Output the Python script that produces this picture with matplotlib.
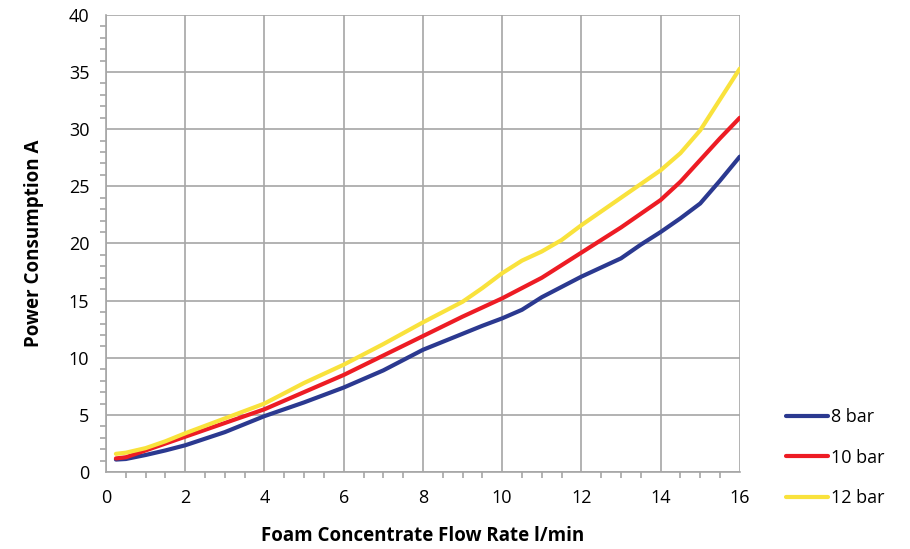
import matplotlib.pyplot as plt
from matplotlib.ticker import MultipleLocator

flow = [0.25, 0.5, 1, 1.5, 2, 3, 4, 5, 6, 7, 8, 9, 9.5, 10, 10.5, 11, 11.5, 12, 12.5, 13, 13.5, 14, 14.5, 15, 15.5, 16]
bar8 = [1.1, 1.15, 1.5, 1.9, 2.35, 3.5, 4.9, 6.1, 7.4, 8.9, 10.7, 12.1, 12.8, 13.45, 14.2, 15.3, 16.2, 17.1, 17.9, 18.7, 19.9, 21.0, 22.2, 23.5, 25.5, 27.6]
bar10 = [1.2, 1.3, 1.9, 2.5, 3.1, 4.3, 5.5, 7.0, 8.5, 10.2, 11.9, 13.6, 14.4, 15.2, 16.1, 17.0, 18.1, 19.2, 20.3, 21.4, 22.6, 23.8, 25.4, 27.3, 29.2, 31.0]
bar12 = [1.6, 1.7, 2.1, 2.7, 3.4, 4.7, 6.0, 7.8, 9.4, 11.2, 13.1, 14.9, 16.1, 17.4, 18.5, 19.3, 20.3, 21.6, 22.8, 24.0, 25.2, 26.4, 27.9, 29.9, 32.6, 35.3]

series = [("8 bar", bar8, "#2b3990"), ("10 bar", bar10, "#ed1c24"), ("12 bar", bar12, "#f9e23c")]

plt.rcParams['font.family'] = ['Open Sans', 'DejaVu Sans']

fig = plt.figure(figsize=(9.1, 5.49), dpi=100)
ax = fig.add_axes([0.1165, 0.140, 0.6965, 0.833])

for name, vals, col in series:
    ax.plot(flow, vals, color=col, lw=3.0, label=name,
            solid_capstyle='round', solid_joinstyle='round')

ax.set_xlim(0, 16)
ax.set_ylim(0, 40)
ax.xaxis.set_major_locator(MultipleLocator(2))
ax.xaxis.set_minor_locator(MultipleLocator(0.5))
ax.yaxis.set_major_locator(MultipleLocator(5))
ax.yaxis.set_minor_locator(MultipleLocator(1))
ax.grid(True, which='major', color='#a6a6a6', lw=1.2)
ax.set_axisbelow(True)
for s in ['top', 'right']:
    ax.spines[s].set_visible(False)
for s in ['left', 'bottom']:
    ax.spines[s].set_color('#a6a6a6')
    ax.spines[s].set_linewidth(1.2)
ax.tick_params(which='both', color='#a6a6a6', width=1.2, labelsize=13, direction='out')
ax.tick_params(which='major', length=0, pad=12)
ax.tick_params(which='minor', length=4)

ax.set_xlabel('Foam Concentrate Flow Rate l/min', fontsize=13.5, fontweight='bold', labelpad=14)
ax.set_ylabel('Power Consumption A', fontsize=13.5, fontweight='bold', labelpad=18)

ax.legend(loc='center left', bbox_to_anchor=(1.062, 0.032), frameon=False, fontsize=13,
          handlelength=2.3, handletextpad=0.2, labelspacing=1.25, borderaxespad=0)

fig.savefig('out.png', dpi=100)
